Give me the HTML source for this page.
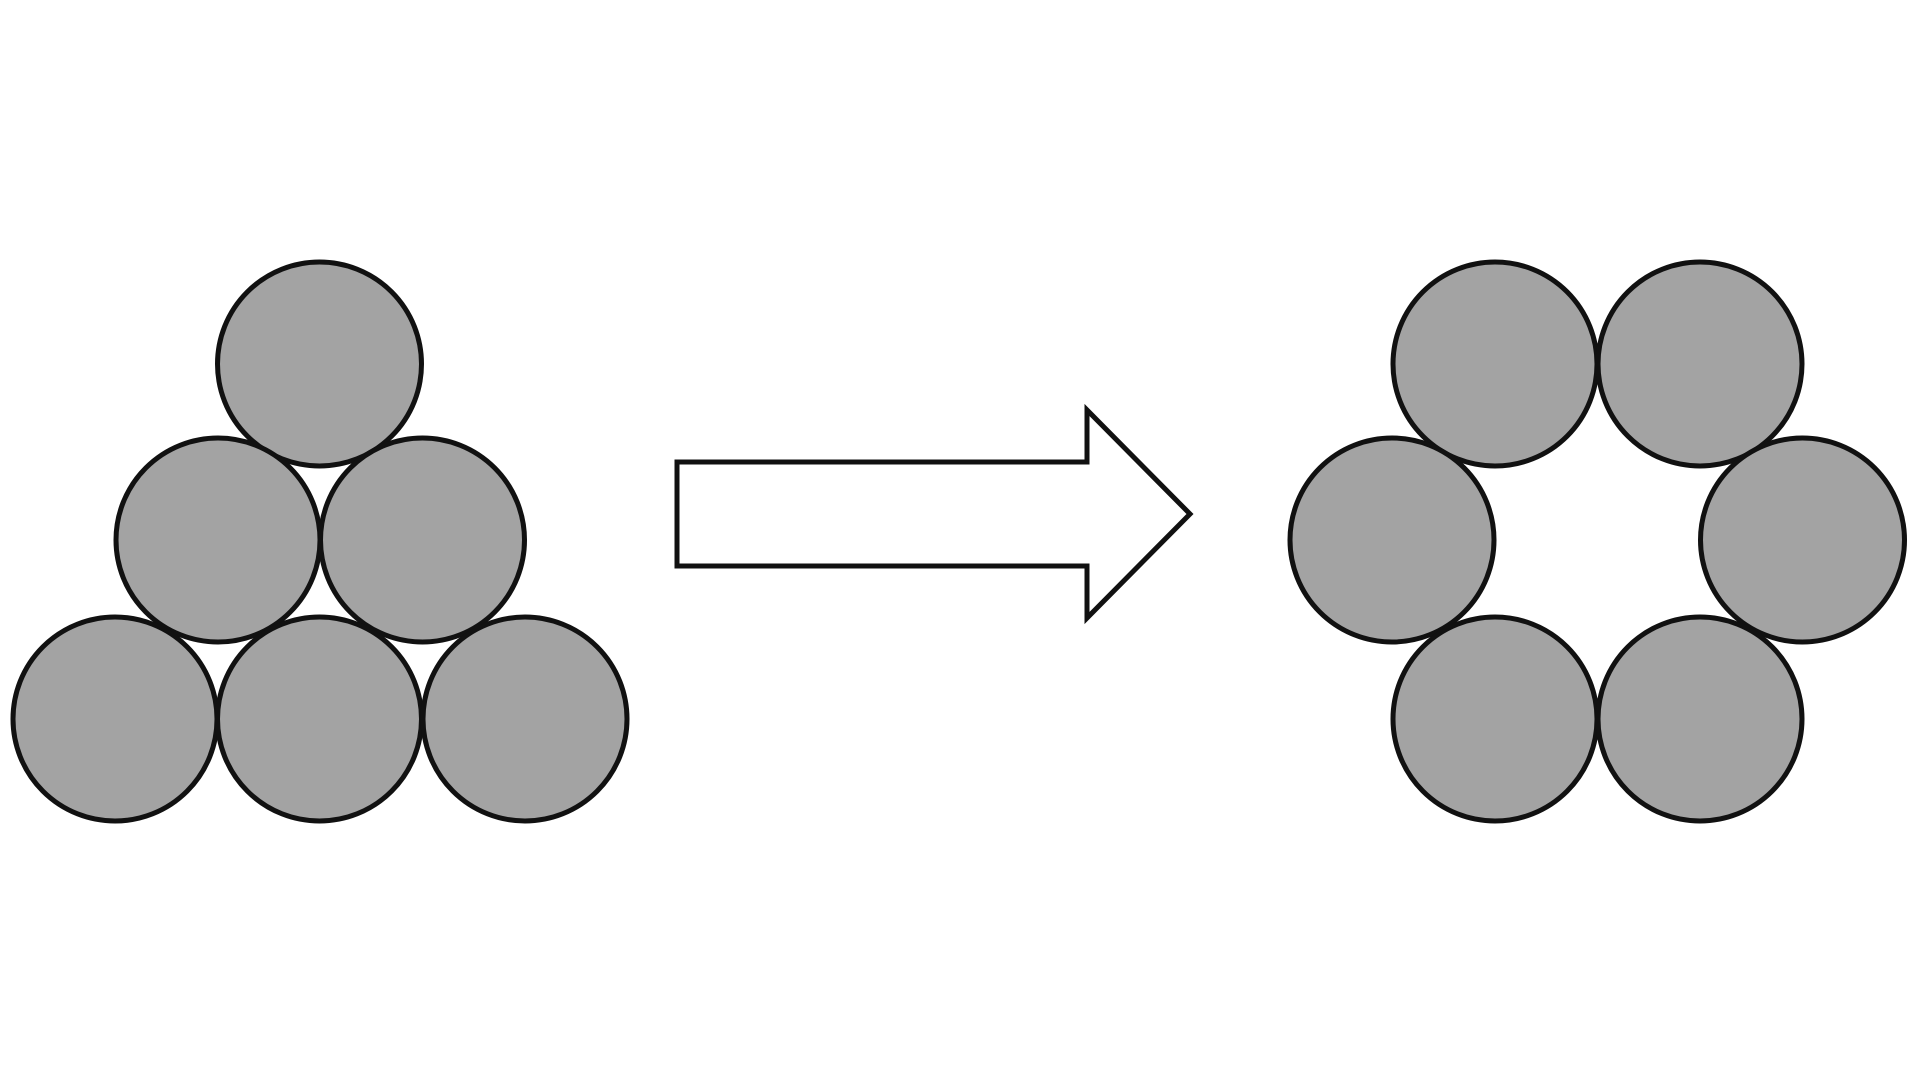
<!DOCTYPE html>
<html><head><style>html,body{margin:0;padding:0;background:#fff;}svg{display:block}</style></head>
<body>
<svg width="1920" height="1080" viewBox="0 0 1920 1080" xmlns="http://www.w3.org/2000/svg">
<g fill="#a3a3a3" stroke="#111" stroke-width="5">
<circle cx="319.5" cy="364" r="102"/>
<circle cx="218" cy="540" r="102"/>
<circle cx="422.5" cy="540" r="102"/>
<circle cx="115" cy="719" r="102"/>
<circle cx="319.5" cy="719" r="102"/>
<circle cx="525" cy="719" r="102"/>
<circle cx="1495" cy="364" r="102"/>
<circle cx="1700" cy="364" r="102"/>
<circle cx="1392" cy="540" r="102"/>
<circle cx="1802.5" cy="540" r="102"/>
<circle cx="1495" cy="719" r="102"/>
<circle cx="1700" cy="719" r="102"/>
</g>
<polygon points="677,462 1087,462 1087,410 1190,514 1087,618 1087,566 677,566" fill="#fff" stroke="#111" stroke-width="5"/>
</svg>
</body></html>
